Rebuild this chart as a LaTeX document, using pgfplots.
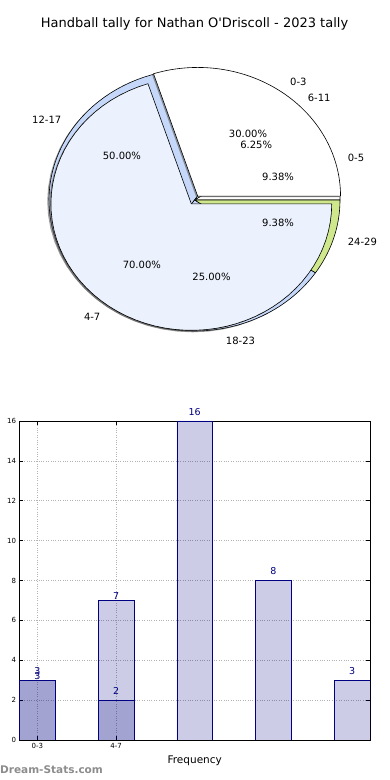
\documentclass[border=0pt]{standalone}
\usepackage{fontspec}
\setmainfont{DejaVu Sans}
\usepackage{pgfplots}
\pgfplotsset{compat=1.18}
\definecolor{navyc}{RGB}{0,0,128}
\definecolor{wlight}{RGB}{236,242,253}
\definecolor{wblue}{RGB}{197,216,250}
\definecolor{wgreen}{RGB}{208,232,140}
\definecolor{shadowc}{RGB}{90,90,90}
\definecolor{wmark}{RGB}{140,140,140}

% second pie: 0-5, 6-11, 12-17, 18-23, 24-29
\def\pA{3}\def\pB{2}\def\pC{16}\def\pD{8}\def\pE{3}
% first pie: 0-3, 4-7
\def\qA{3}\def\qB{7}

\pgfmathsetmacro\Ttwo{\pA+\pB+\pC+\pD+\pE}
\pgfmathsetmacro\bA{360*\pA/\Ttwo}
\pgfmathsetmacro\bB{\bA+360*\pB/\Ttwo}
\pgfmathsetmacro\bC{\bB+360*\pC/\Ttwo}
\pgfmathsetmacro\bD{\bC+360*\pD/\Ttwo}
\pgfmathsetmacro\mA{\bA/2}
\pgfmathsetmacro\mB{(\bA+\bB)/2}
\pgfmathsetmacro\mC{(\bB+\bC)/2}
\pgfmathsetmacro\mD{(\bC+\bD)/2}
\pgfmathsetmacro\mE{(\bD+360)/2}
\pgfmathsetmacro\cA{360*\qA/(\qA+\qB)}
\pgfmathsetmacro\nA{\cA/2}
\pgfmathsetmacro\nB{(\cA+360)/2}
% explode of first pie
\pgfmathsetmacro\wx{0.037*cos(\nA)}
\pgfmathsetmacro\wy{0.037*sin(\nA)}
\pgfmathsetmacro\lx{0.037*cos(\nB)}
\pgfmathsetmacro\ly{0.037*sin(\nB)}
\def\rW{0.982}
\def\rL{0.965}

\newcommand{\pwedge}[6]{\filldraw[fill=#1,draw=black,line width=0.6pt,line join=round] (axis cs:#2,#3) -- plot[domain=#5:#6,samples=61,variable=\ang] (axis cs:{#2+#4*cos(\ang)},{#3+#4*sin(\ang)}) -- cycle;}
\newcommand{\pshadow}[5]{\fill[shadowc,opacity=0.6] (axis cs:#1,#2) -- plot[domain=#4:#5,samples=61,variable=\ang] (axis cs:{#1+#3*cos(\ang)},{#2+#3*sin(\ang)}) -- cycle;}
\newcommand{\pielab}{\fontsize{10}{12}\selectfont}

\begin{document}
\begin{tikzpicture}
\path[use as bounding box] (0,0) rectangle (390pt,780pt);

% ---------------- pie chart ----------------
\begin{axis}[at={(194.5pt,580pt)},anchor=center,scale only axis,
  width=378.3pt,height=340.6pt,
  xmin=-1.3,xmax=1.3,ymin=-1.3,ymax=1.3,
  hide axis,clip=false,
  title={Handball tally for Nathan O\textquotesingle Driscoll - 2023 tally},
  title style={at={(0.5,1)},anchor=center,font=\fontsize{13}{15}\selectfont}]
% second pie (underneath)
\pshadow{-0.012}{-0.01}{1}{0}{360}
\pwedge{white}{0}{0}{1}{0}{\bA}
\pwedge{white}{0}{0}{1}{\bA}{\bB}
\pwedge{wblue}{0}{0}{1}{\bB}{\bC}
\pwedge{wblue}{0}{0}{1}{\bC}{\bD}
\pwedge{wgreen}{0}{0}{1}{\bD}{360}
% first pie (exploded, on top)
\pshadow{\wx-0.01}{\wy-0.008}{\rW}{0}{\cA}
\pshadow{\lx-0.01}{\ly-0.008}{\rL}{\cA}{360}
\pwedge{white}{\wx}{\wy}{\rW}{0}{\cA}
\pwedge{wlight}{\lx}{\ly}{\rL}{\cA}{360}
% labels second pie
\node[anchor=west,font=\pielab,inner sep=0pt] at (axis cs:{1.1*cos(\mA)},{1.1*sin(\mA)}) {0-5};
\node[anchor=west,font=\pielab,inner sep=0pt] at (axis cs:{1.1*cos(\mB)},{1.1*sin(\mB)}) {6-11};
\node[anchor=east,font=\pielab,inner sep=0pt] at (axis cs:{1.1*cos(\mC)},{1.1*sin(\mC)}) {12-17};
\node[anchor=west,font=\pielab,inner sep=0pt] at (axis cs:{1.1*cos(\mD)},{1.1*sin(\mD)}) {18-23};
\node[anchor=west,font=\pielab,inner sep=0pt] at (axis cs:{1.1*cos(\mE)},{1.1*sin(\mE)}) {24-29};
\node[font=\pielab,inner sep=0pt] at (axis cs:{0.6*cos(\mA)},{0.6*sin(\mA)}) {9.38\%};
\node[font=\pielab,inner sep=0pt] at (axis cs:{0.6*cos(\mB)},{0.6*sin(\mB)}) {6.25\%};
\node[font=\pielab,inner sep=0pt] at (axis cs:{0.6*cos(\mC)},{0.6*sin(\mC)}) {50.00\%};
\node[font=\pielab,inner sep=0pt] at (axis cs:{0.6*cos(\mD)},{0.6*sin(\mD)}) {25.00\%};
\node[font=\pielab,inner sep=0pt] at (axis cs:{0.6*cos(\mE)},{0.6*sin(\mE)}) {9.38\%};
% labels first pie
\node[anchor=west,font=\pielab,inner sep=0pt] at (axis cs:{\wx+1.1*\rW*cos(\nA)},{\wy+1.1*\rW*sin(\nA)}) {0-3};
\node[anchor=east,font=\pielab,inner sep=0pt] at (axis cs:{\lx+1.1*\rL*cos(\nB)},{\ly+1.1*\rL*sin(\nB)}) {4-7};
\node[font=\pielab,inner sep=0pt] at (axis cs:{\wx+0.6*\rW*cos(\nA)},{\wy+0.6*\rW*sin(\nA)}) {30.00\%};
\node[font=\pielab,inner sep=0pt] at (axis cs:{\lx+0.6*\rL*cos(\nB)},{\ly+0.6*\rL*sin(\nB)}) {70.00\%};
\end{axis}

% ---------------- bar chart ----------------
\begin{axis}[at={(19.5pt,40pt)},anchor=south west,scale only axis,
  width=350.5pt,height=319pt,
  xmin=-0.228,xmax=4.228,ymin=0,ymax=16,
  xtick={0,1},xticklabels={0-3,4-7},ytick={0,2,...,16},
  grid=major,grid style={dotted,line width=0.6pt,gray!60},
  axis line style={black,line width=0.7pt},
  tick style={black,line width=0.5pt},major tick length=4pt,
  ticklabel style={font=\fontsize{7}{8}\selectfont},
  /pgf/number format/assume math mode=true,
  xlabel={Frequency},
  xlabel style={font=\fontsize{10.5}{12}\selectfont},
  every node near coord/.append style={font=\fontsize{9.5}{11}\selectfont,text=navyc,text opacity=1,fill opacity=1,inner sep=0pt,anchor=south}]
\addplot[ybar,bar width=0.455,bar shift=0,draw=navyc,fill=navyc,fill opacity=0.2,line width=0.7pt,
  nodes near coords,nodes near coords style={yshift=5.5pt}]
  coordinates {(0,3) (1,2) (2,16) (3,8) (4,3)};
\addplot[ybar,bar width=0.455,bar shift=0,draw=navyc,fill=navyc,fill opacity=0.2,line width=0.7pt,
  nodes near coords,nodes near coords style={yshift=0.5pt}]
  coordinates {(0,3) (1,7)};
\end{axis}

\node[anchor=west,inner sep=0pt,font=\bfseries\fontsize{10.5}{12}\selectfont,text=wmark] at (0pt,10pt) {Dream-Stats.com};
\end{tikzpicture}
\end{document}
